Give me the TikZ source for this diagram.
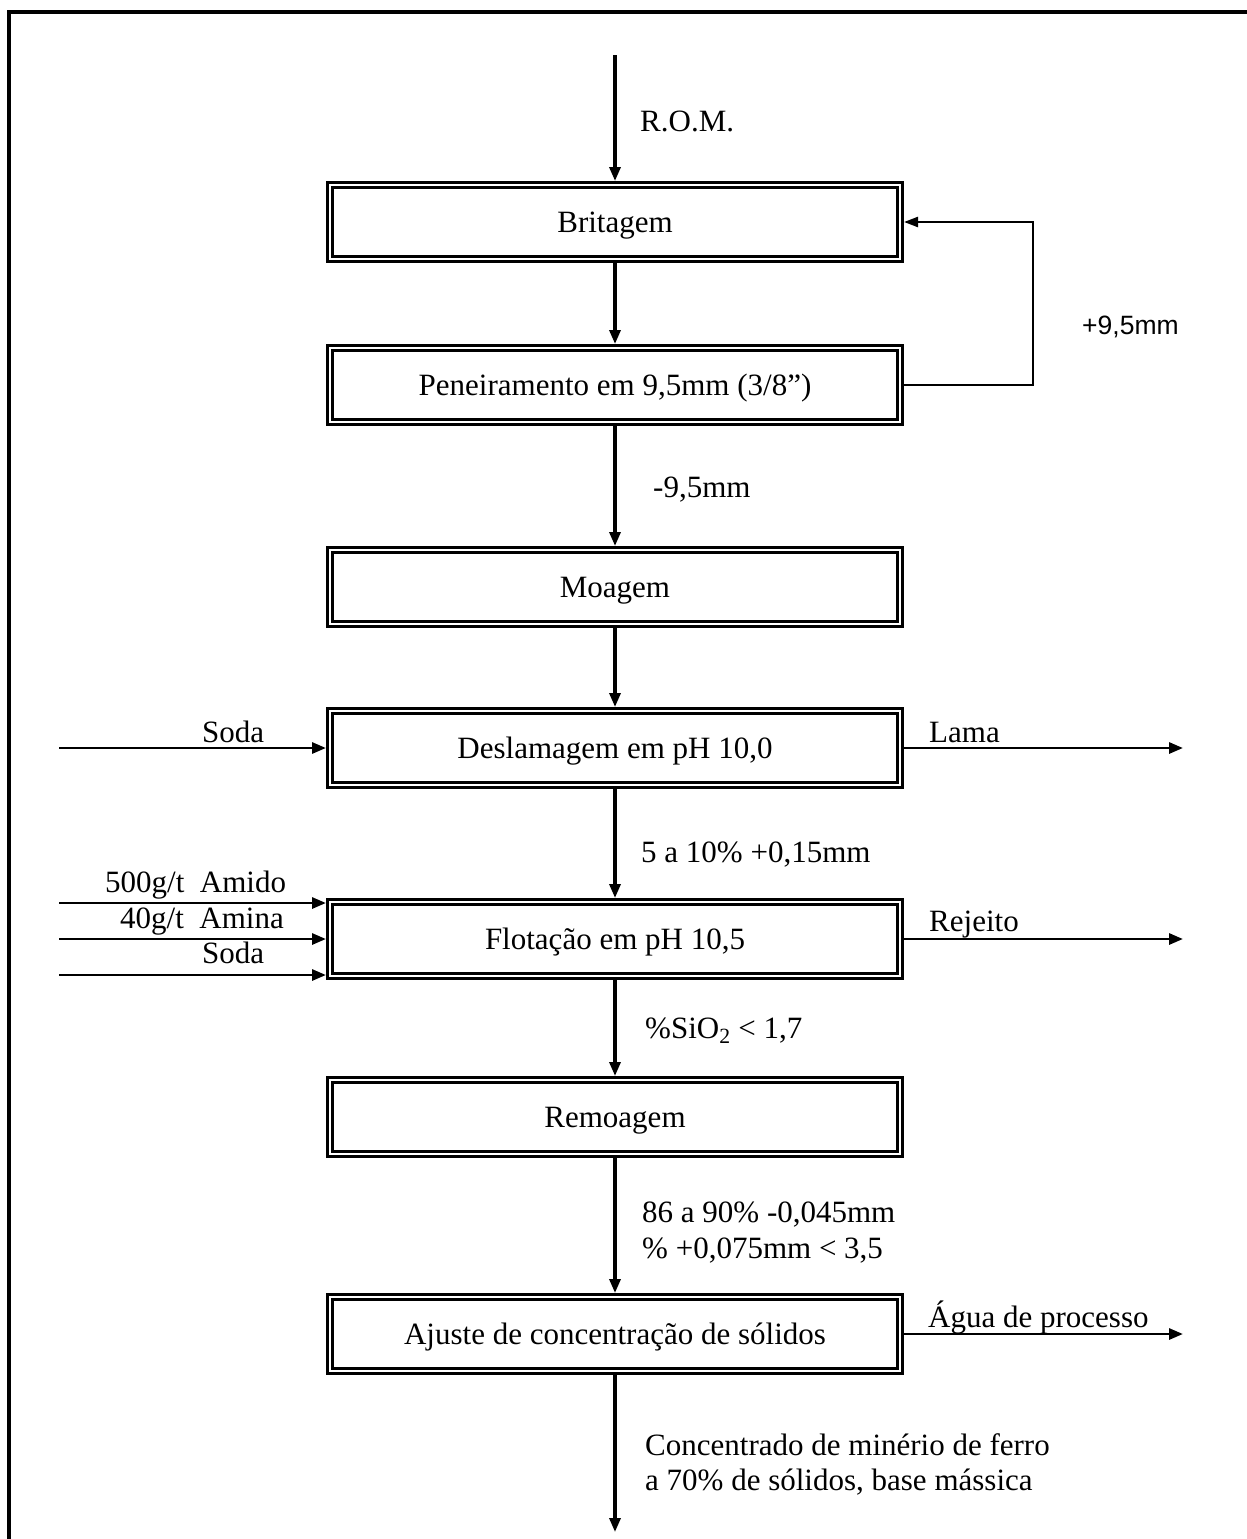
\documentclass[tikz,border=0pt]{standalone}
\usepackage{fontspec}
\setmainfont{Liberation Serif}
\newfontfamily\arialf{Liberation Sans}
\usetikzlibrary{arrows.meta}
\begin{document}
\begin{tikzpicture}[x=1pt,y=-1pt,
  every node/.style={inner sep=0pt, font=\fontsize{31}{37}\selectfont},
  procbox/.style={draw, double, line width=3.4pt, double distance=1.2pt,
    minimum width=570pt, minimum height=74pt, outer sep=4pt,
    text height=21pt, text depth=0pt},
  flow/.style={line width=3.2pt, -{Triangle[length=14pt,width=11pt]}},
  side/.style={line width=2.9pt, -{Triangle[length=14pt,width=11pt]}},
  recirc/.style={line width=2.3pt, -{Triangle[length=14pt,width=10pt]}},
  lbl/.style={anchor=base west}]
\useasboundingbox (0,0) rectangle (1247,1539);
\draw[line width=4pt] (9,1545) -- (9,12) -- (1255,12);

% process boxes
\node[procbox] (brit) at (615,222) {Britagem};
\node[procbox] (pen)  at (615,385) {Peneiramento em 9,5mm (3/8”)};
\node[procbox] (moag) at (615,587) {Moagem};
\node[procbox] (desl) at (615,748) {Deslamagem em pH 10,0};
\node[procbox] (flot) at (615,939) {Flotação em pH 10,5};
\node[procbox] (remo) at (615,1117) {Remoagem};
\node[procbox] (ajus) at (615,1334) {Ajuste de concentração de sólidos};

% free ends
\coordinate (rom0) at (615,55);
\coordinate (out) at (615,1532);
\coordinate (rc) at (1033,300);
\coordinate (s1) at (59,748);
\coordinate (lm) at (1183,748);
\coordinate (a1) at (59,903);
\coordinate (a2) at (59,939);
\coordinate (a3) at (59,975);
\coordinate (rj) at (1183,939);
\coordinate (ag) at (1183,1334);

% main flow
\draw[flow] (rom0) -- (brit);
\draw[flow] (brit) -- (pen);
\draw[flow] (pen) -- (moag);
\draw[flow] (moag) -- (desl);
\draw[flow] (desl) -- (flot);
\draw[flow] (flot) -- (remo);
\draw[flow] (remo) -- (ajus);
\draw[flow] (ajus) -- (out);

% recirculation
\draw[recirc] (pen.east) -- (pen.east -| rc) -- (brit.east -| rc) -- (brit.east);

% side streams
\draw[side] (s1) -- (desl.west);
\draw[side] (desl.east) -- (lm);
\draw[side] (a1) -- (a1 -| flot.west);
\draw[side] (a2) -- (a2 -| flot.west);
\draw[side] (a3) -- (a3 -| flot.west);
\draw[side] (flot.east) -- (rj);
\draw[side] (ajus.east) -- (ag);

% labels
\node[lbl] (rom) at (640,131) {R.O.M.};
\node[lbl,font=\arialf\fontsize{26.5}{32}\selectfont] (plus) at (1082,334) {+9,5mm};
\node[lbl] (minus) at (653,497) {-9,5mm};
\node[lbl] (soda1) at (202,742) {Soda};
\node[lbl] (lama) at (929,742) {Lama};
\node[lbl] (fine) at (641,862) {5 a 10\% +0,15mm};
\node[lbl] (amido) at (105,892) {500g/t\ \ Amido};
\node[lbl] (amina) at (120,928) {40g/t\ \ Amina};
\node[lbl] (soda2) at (202,963) {Soda};
\node[lbl] (rej) at (929,931) {Rejeito};
\node[lbl] (sio) at (645,1038) {\%SiO\textsubscript{2} < 1,7};
\node[lbl] (r1) at (642,1222) {86 a 90\% -0,045mm};
\node[lbl] (r2) at (642,1258) {\% +0,075mm < 3,5};
\node[lbl] (agua) at (928,1327) {Água de processo};
\node[lbl] (c1) at (645,1455) {Concentrado de minério de ferro};
\node[lbl] (c2) at (645,1490) {a 70\% de sólidos, base mássica};
\end{tikzpicture}
\end{document}
